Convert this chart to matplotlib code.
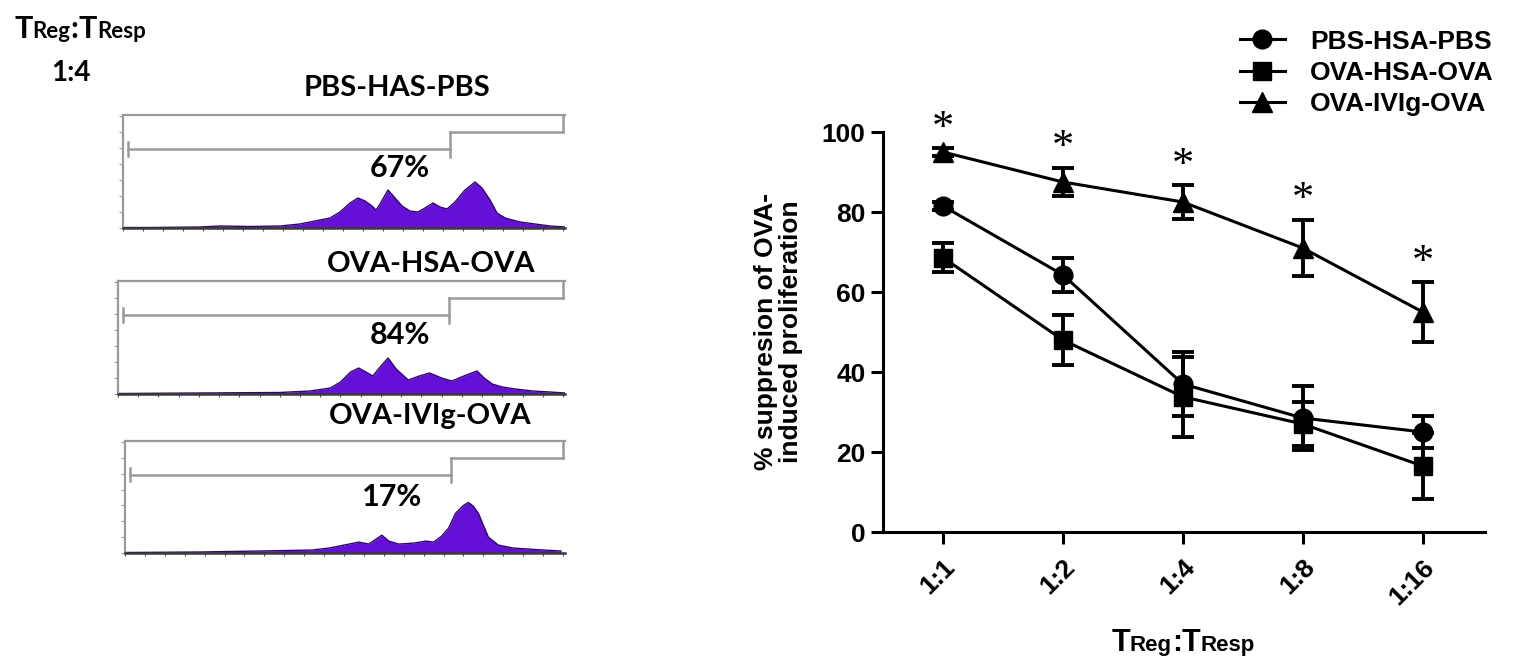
import matplotlib
matplotlib.use("Agg")
import matplotlib.pyplot as plt
from matplotlib.lines import Line2D
from matplotlib.offsetbox import TextArea, HPacker, AnchoredOffsetbox

# ---- line chart data ----
ratios = ["1:1", "1:2", "1:4", "1:8", "1:16"]
groups = ["PBS-HSA-PBS", "OVA-HSA-OVA", "OVA-IVIg-OVA"]
pbs_mean = [81.5, 64.3, 37.0, 28.5, 25.0]
pbs_err = [1.0, 4.2, 8.0, 8.0, 4.0]
ova_mean = [68.6, 48.0, 33.8, 27.0, 16.5]
ova_err = [3.6, 6.2, 10.0, 5.5, 8.3]
ivig_mean = [95.0, 87.5, 82.5, 71.0, 55.0]
ivig_err = [1.0, 3.6, 4.2, 7.1, 7.4]
signif = ["*", "*", "*", "*", "*"]

# ---- histogram data (channel, count) ----
hist_titles = ["PBS-HAS-PBS", "OVA-HSA-OVA", "OVA-IVIg-OVA"]
hist_pct = ["67%", "84%", "17%"]
h1_x = [0, 27, 77, 97, 127, 157, 177, 192, 207, 217, 227, 235, 242, 249, 253, 257, 265, 272,
        279, 287, 295, 302, 310, 317, 324, 332, 342, 352, 359, 367, 374, 382, 397, 412, 427, 442]
h1_y = [0.5, 0.5, 1, 2, 1.5, 2, 4, 7, 10, 16, 25, 30, 27, 22, 18, 24, 38, 30,
        22, 17, 16, 20, 25, 21, 19, 26, 38, 46, 40, 28, 15, 10, 6, 4, 2, 1]
h2_x = [0, 80, 160, 190, 210, 220, 230, 238, 245, 252, 260, 267, 275, 287, 298, 308, 320, 330,
        342, 355, 362, 370, 380, 393, 410, 427, 442]
h2_y = [0.5, 1, 1.5, 3, 6, 12, 22, 26, 22, 18, 28, 36, 25, 14, 18, 21, 16, 13,
        18, 23, 16, 10, 7, 5, 3, 2, 1]
h3_x = [0, 75, 135, 188, 205, 220, 235, 245, 258, 265, 275, 290, 302, 310, 318, 325, 332, 340,
        345, 350, 355, 360, 365, 375, 390, 405, 420, 438]
h3_y = [0.5, 1, 2, 3, 5, 8, 11, 9, 18, 12, 9, 10, 12, 11, 17, 25, 40, 48,
        51, 47, 40, 28, 16, 8, 5, 4, 3, 2]

W, H = 1513, 660
fig = plt.figure(figsize=(W / 100, H / 100), dpi=100)
LEFT_FONT = ["Lato", "DejaVu Sans"]
RIGHT_FONT = ["Liberation Sans", "DejaVu Sans"]


def fx(px):
    return px / W


def fy(py):
    return 1 - py / H


def mixed_label(parts, center, family):
    # parts: list of (text, size) on a common baseline
    boxes = [TextArea(t, textprops=dict(fontsize=s, fontweight="bold", family=family))
             for t, s in parts]
    pack = HPacker(children=boxes, align="baseline", pad=0, sep=0)
    anc = AnchoredOffsetbox(loc="center", child=pack, pad=0, borderpad=0, frameon=False,
                            bbox_to_anchor=(fx(center[0]), fy(center[1])),
                            bbox_transform=fig.transFigure)
    fig.add_artist(anc)


# ---- left: histograms ----
mixed_label([("T", 22), ("Reg", 16), (":", 22), ("T", 22), ("Resp", 16)], (80, 29), LEFT_FONT)
fig.text(fx(71), fy(73), "1:4", fontsize=20, fontweight="bold", family=LEFT_FONT,
         ha="center", va="center")

panels = [(123, 115, 565, 228), (118, 281, 565, 394), (125, 441, 565, 553)]
title_pos = [(397, 88), (431, 264), (430, 416)]
pct_pos = [(400, 168), (400, 335), (392, 497)]
hists = [(h1_x, h1_y), (h2_x, h2_y), (h3_x, h3_y)]

for (l, t, r, b), (hx, hy), title, tp, pct, pp in zip(panels, hists, hist_titles,
                                                        title_pos, hist_pct, pct_pos):
    hax = fig.add_axes([fx(l), fy(b), (r - l) / W, (b - t) / H])
    hax.fill_between(hx, hy, color="#6410d6", lw=0)
    hax.plot(hx, hy, color="#2c0a5c", lw=1.0)
    hax.set_xlim(0, 442)
    hax.set_ylim(0, 113)
    hax.spines["right"].set_visible(False)
    for s in ["left", "top"]:
        hax.spines[s].set_color("#9a9a9a")
        hax.spines[s].set_linewidth(1.6)
    hax.spines["bottom"].set_color("#3a3a3a")
    hax.spines["bottom"].set_linewidth(1.8)
    hax.set_xticks(range(0, 443, 20))
    hax.set_yticks(range(0, 113, 16))
    hax.tick_params(axis="x", length=2, width=0.8, color="#555555", labelbottom=False)
    hax.tick_params(axis="y", length=3, width=0.8, color="#9a9a9a", labelleft=False)
    g = "#9a9a9a"
    tr = hax.transAxes
    split, lo, up = 0.74, 0.70, 0.85
    hax.plot([0.012, split], [lo, lo], color=g, lw=1.8, transform=tr)
    hax.plot([0.012, 0.012], [lo - 0.06, lo + 0.06], color=g, lw=1.8, transform=tr)
    hax.plot([split, split], [lo - 0.07, up], color=g, lw=1.8, transform=tr)
    hax.plot([split, 0.995], [up, up], color=g, lw=1.8, transform=tr)
    hax.plot([0.995, 0.995], [up, 1.0], color=g, lw=1.8, transform=tr)
    fig.text(fx(tp[0]), fy(tp[1]), title, fontsize=21, fontweight="bold", family=LEFT_FONT,
             ha="center", va="center")
    fig.text(fx(pp[0]), fy(pp[1]), pct, fontsize=22, fontweight="bold", family=LEFT_FONT,
             ha="center", va="center")

# ---- right: suppression line chart ----
ax = fig.add_axes([fx(883), fy(532), (1485 - 883) / W, 400 / H])
x = list(range(len(ratios)))
series = [(pbs_mean, pbs_err, "o", 13.5), (ova_mean, ova_err, "s", 12.5),
          (ivig_mean, ivig_err, "^", 14)]
handles = []
for mean, err, mk, ms in series:
    eb = ax.errorbar(x, mean, yerr=err, fmt="-" + mk, color="black", ms=ms, lw=2.2,
                     elinewidth=2.8, capsize=8, capthick=2.8)
    eb[0].set_clip_on(False)
    for c in eb[1]:
        c.set_clip_on(False)
    for c in eb[2]:
        c.set_clip_on(False)
    handles.append(Line2D([], [], color="black", marker=mk, ms=ms, lw=2.2))

for i, (m, e, s) in enumerate(zip(ivig_mean, ivig_err, signif)):
    ax.annotate(s, (i, m + e), xytext=(0, 14), textcoords="offset points", ha="center",
                va="center", fontsize=32, family="Liberation Serif", annotation_clip=False)

ax.set_xlim(-0.5, 4.52)
ax.set_ylim(0, 100)
ax.set_yticks([0, 20, 40, 60, 80, 100])
ax.set_xticks(x)
ax.set_xticklabels(ratios, rotation=45, ha="right", va="top", rotation_mode="anchor")
for s in ["top", "right"]:
    ax.spines[s].set_visible(False)
for s in ["left", "bottom"]:
    ax.spines[s].set_linewidth(2.2)
ax.tick_params(axis="both", length=8.5, width=2.2, pad=4)
ax.tick_params(axis="x", pad=8)
for lab in ax.get_xticklabels() + ax.get_yticklabels():
    lab.set_fontsize(19)
    lab.set_fontweight("bold")
    lab.set_family(RIGHT_FONT)
ax.set_ylabel("% suppresion of OVA-\ninduced proliferation", fontsize=19, fontweight="bold",
              family=RIGHT_FONT, linespacing=1.05)
ax.yaxis.set_label_coords(-0.133, 0.5)

mixed_label([("T", 22), ("Reg", 16), (":", 22), ("T", 22), ("Resp", 16)], (1183, 643),
            RIGHT_FONT)

fig.legend(handles, groups, loc="center left", bbox_to_anchor=(fx(1240), fy(73)),
           frameon=False, prop=dict(family=RIGHT_FONT, weight="bold", size=19),
           handlelength=1.7, handletextpad=0.95, labelspacing=0.28, borderpad=0,
           borderaxespad=0)

fig.savefig("out.png", dpi=100)
